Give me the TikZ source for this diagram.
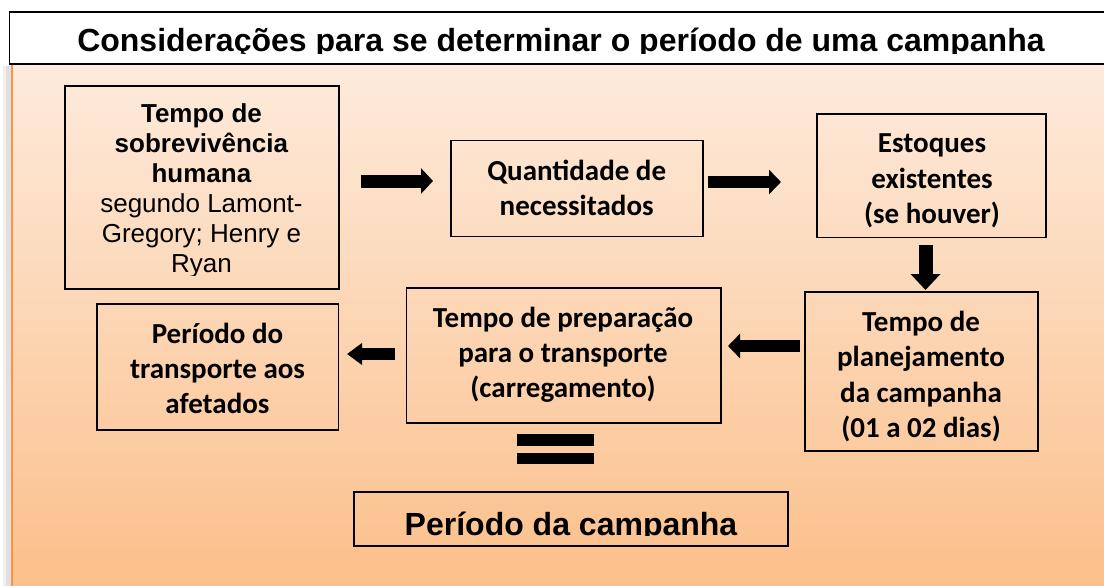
\documentclass[tikz,border=0pt]{standalone}
\usepackage{fontspec}
\setmainfont{Liberation Sans}
\newfontfamily\calib{Carlito}
\usetikzlibrary{arrows.meta}
\definecolor{panelTop}{RGB}{253,235,220}
\definecolor{panelBot}{RGB}{251,191,138}
\definecolor{panelEdge}{RGB}{247,150,70}
\newcommand{\mlines}[1]{\begin{tabular}[t]{@{}c@{}}#1\end{tabular}}
\tikzset{
  box/.style={draw=black, line width=1.4pt, inner sep=0pt, outer sep=0pt},
  calibtxt/.style={font=\calib\bfseries\fontsize{29}{35.3}\selectfont, anchor=base, inner sep=0pt},
  arialtxt/.style={font=\fontsize{26}{30.2}\selectfont, anchor=base, inner sep=0pt},
  headtxt/.style={font=\bfseries\fontsize{32}{36}\selectfont, anchor=base, inner sep=0pt},
  blockarrow/.style={draw=black, line width=#1, line cap=butt},
}
\begin{document}
\begin{tikzpicture}[x=1pt,y=-1pt]
\useasboundingbox (0,0) rectangle (1104,586);
% panel with shadow
\fill[black!12] (6,66) rectangle (11,590);
\fill[black!6] (3,66) rectangle (6,590);
\shade[top color=panelTop, bottom color=panelBot] (11,64) rectangle (1110,590);
\draw[panelEdge, line width=2pt] (12,64) -- (12,590);
% title box
\draw[line width=1.3pt, fill=white] (9.5,12) rectangle (1115,64);
\begin{scope}
\clip (9.5,12) rectangle (1110,53.2);
\node[headtxt] (title) at (561,52) {Considerações para se determinar o período de uma campanha};
\end{scope}
% boxes
\node[box, minimum width=274pt, minimum height=203pt] (b1) at (202,187.5) {};
\node[box, minimum width=252pt, minimum height=96pt] (b2) at (577,188.7) {};
\node[box, minimum width=229pt, minimum height=123.5pt] (b3) at (931.5,175.75) {};
\node[box, minimum width=233pt, minimum height=159pt] (b4) at (921.5,371.5) {};
\node[box, minimum width=314.3pt, minimum height=135pt] (b5) at (563.85,355.5) {};
\node[box, minimum width=241.5pt, minimum height=126pt] (b6) at (217.75,367) {};
\node[box, minimum width=434pt, minimum height=54pt] (b7) at (571,519) {};
% texts
\begin{scope}
\clip (65,86) rectangle (339,275.5);
\node[arialtxt] (t1) at (201.5,122) {\mlines{\textbf{Tempo de}\\ \textbf{sobrevivência}\\ \textbf{humana}\\ segundo Lamont-\\ Gregory; Henry e\\ Ryan}};
\end{scope}
\node[calibtxt] (t2) at (576.7,180) {\mlines{Quantidade de\\ necessitados}};
\node[calibtxt] (t3) at (932,153) {\mlines{Estoques\\ existentes\\ (se houver)}};
\node[calibtxt] (t4) at (921,331.5) {\mlines{Tempo de\\ planejamento\\ da campanha\\ (01 a 02 dias)}};
\node[calibtxt] (t5) at (563,327) {\mlines{Tempo de preparação\\ para o transporte\\ (carregamento)}};
\node[calibtxt] (t6) at (217.5,343) {\mlines{Período do\\ transporte aos\\ afetados}};
\begin{scope}
\clip (354,492) rectangle (788,535.8);
\node[headtxt] (t7) at (571,535) {Período da campanha};
\end{scope}
% block arrows
\draw[blockarrow=13pt, -{Triangle[length=12pt,width=25pt]}, shorten <=22pt, shorten >=18pt]
  ([yshift=6.5pt]b1.east) -- ([yshift=7.7pt]b2.west);
\draw[blockarrow=12pt, -{Triangle[length=12pt,width=24pt]}, shorten <=5pt, shorten >=36pt]
  ([yshift=6.7pt]b2.east) -- ([yshift=-6.25pt]b3.west);
\draw[blockarrow=14pt, -{Triangle[length=16pt,width=29pt]}, shorten <=7.5pt, shorten >=2pt]
  ([xshift=-6pt]b3.south) -- ([xshift=4pt]b4.north);
\draw[blockarrow=12.5pt, -{Triangle[length=12pt,width=24pt]}, shorten <=5pt, shorten >=7pt]
  ([yshift=25.5pt]b4.west) -- ([yshift=9.5pt]b5.east);
\draw[blockarrow=12pt, -{Triangle[length=15pt,width=21pt]}, shorten <=11.7pt, shorten >=8.5pt]
  ([yshift=1.5pt]b5.west) -- ([yshift=13pt]b6.east);
% equals sign
\fill (517,434) rectangle (594,446);
\fill (517,453) rectangle (594,464);
\end{tikzpicture}
\end{document}
